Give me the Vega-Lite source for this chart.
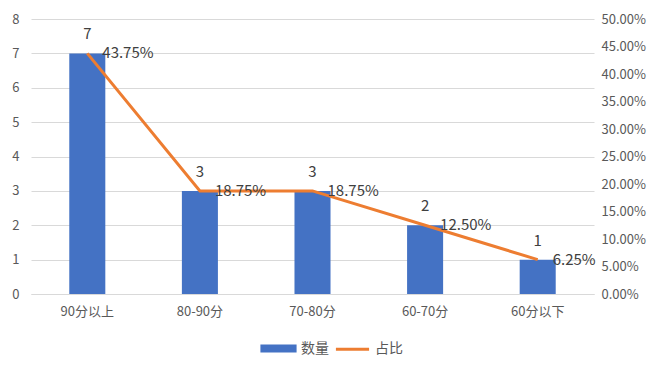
{
  "$schema": "https://vega.github.io/schema/vega-lite/v6.json",
  "width": 563,
  "height": 275,
  "autosize": {"type": "none"},
  "padding": {"left": 31, "top": 19, "right": 68, "bottom": 78},
  "background": "white",
  "config": {
    "font": "Noto Sans CJK SC",
    "view": {"stroke": null},
    "axis": {"labelFont": "Noto Sans CJK SC", "labelColor": "#595959", "labelFontSize": 13, "domain": false, "ticks": false, "title": null, "labelOverlap": false}
  },
  "data": {
    "values": [
      {"cat": "90分以上", "count": 7, "ratio": 0.4375},
      {"cat": "80-90分", "count": 3, "ratio": 0.1875},
      {"cat": "70-80分", "count": 3, "ratio": 0.1875},
      {"cat": "60-70分", "count": 2, "ratio": 0.125},
      {"cat": "60分以下", "count": 1, "ratio": 0.0625}
    ]
  },
  "encoding": {
    "x": {
      "field": "cat", "type": "nominal", "sort": null,
      "scale": {"paddingInner": 0.68, "paddingOuter": 0.34},
      "axis": {"labelAngle": 0, "labelPadding": 11, "domain": true, "domainColor": "#d9d9d9"}
    }
  },
  "layer": [
    {
      "mark": {"type": "bar", "color": "#4472C4"},
      "encoding": {
        "y": {
          "field": "count", "type": "quantitative",
          "scale": {"domain": [0, 8], "nice": false},
          "axis": {"orient": "left", "values": [0,1,2,3,4,5,6,7,8], "grid": true, "gridColor": "#d9d9d9", "labelPadding": 12}
        },
        "color": {"datum": "数量", "type": "nominal",
          "scale": {"domain": ["数量", "占比"], "range": ["#4472C4", "#ED7D31"]},
          "legend": {
            "orient": "none", "legendX": 229, "legendY": 311, "direction": "horizontal",
            "title": null, "labelFontSize": 14, "labelColor": "#595959", "labelFont": "Noto Sans CJK SC",
            "symbolSize": 1100, "columnPadding": 0, "labelOffset": 4,
            "encode": {
              "symbols": {
                "update": {
                  "shape": {"signal": "datum.value === '数量' ? 'M-1,-0.15H1V0.15H-1Z' : 'stroke'"},
                  "fill": {"signal": "datum.value === '数量' ? '#4472C4' : 'transparent'"},
                  "stroke": {"signal": "datum.value === '数量' ? 'transparent' : '#ED7D31'"},
                  "strokeWidth": {"value": 3},
                  "opacity": {"value": 1}
                }
              }
            }
          }
        }
      }
    },
    {
      "mark": {"type": "text", "fontSize": 15, "color": "#404040", "dy": -19, "baseline": "middle"},
      "encoding": {
        "y": {"field": "count", "type": "quantitative", "scale": {"domain": [0, 8], "nice": false}, "axis": null},
        "text": {"field": "count", "type": "quantitative"}
      }
    },
    {
      "mark": {"type": "line", "color": "#ED7D31", "strokeWidth": 3},
      "encoding": {
        "y": {
          "field": "ratio", "type": "quantitative",
          "scale": {"domain": [0, 0.5], "nice": false},
          "axis": {"orient": "right", "format": ".2%", "values": [0,0.05,0.1,0.15,0.2,0.25,0.3,0.35,0.4,0.45,0.5], "grid": false, "labelPadding": 7}
        },
        "color": {"datum": "占比", "type": "nominal"}
      }
    },
    {
      "mark": {"type": "text", "fontSize": 15, "color": "#404040", "align": "left", "baseline": "middle", "dx": 15},
      "encoding": {
        "y": {"field": "ratio", "type": "quantitative", "scale": {"domain": [0, 0.5], "nice": false}, "axis": null},
        "text": {"field": "ratio", "type": "quantitative", "format": ".2%"}
      }
    }
  ],
  "resolve": {"scale": {"y": "independent"}}
}
